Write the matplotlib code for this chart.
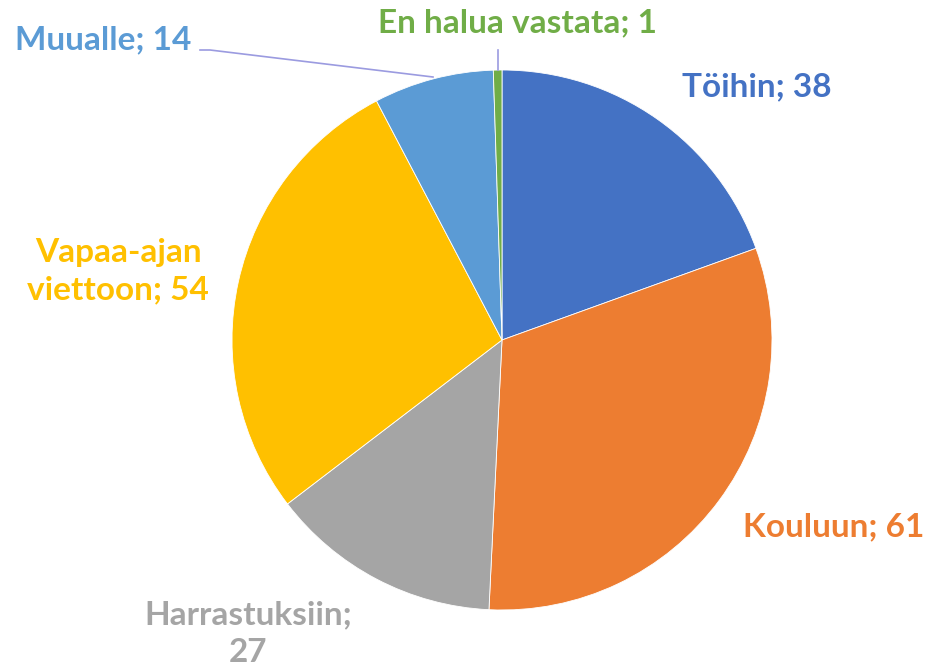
import matplotlib.pyplot as plt

labels = ["Töihin", "Kouluun", "Harrastuksiin", "Vapaa-ajan viettoon", "Muualle", "En halua vastata"]
values = [38, 61, 27, 54, 14, 1]
colors = ["#4472C4", "#ED7D31", "#A5A5A5", "#FFC000", "#5B9BD5", "#70AD47"]
label_texts = ["Töihin; 38", "Kouluun; 61", "Harrastuksiin;\n27", "Vapaa-ajan\nviettoon; 54",
               "Muualle; 14", "En halua vastata; 1"]

W, H = 930, 671
fig = plt.figure(figsize=(9.3, 6.71), dpi=100)
ax = fig.add_axes([0, 0, 1, 1])

cx, cy, r = 502, H - 340, 270
ax.pie(values, colors=colors, startangle=90, counterclock=False,
       center=(cx, cy), radius=r, frame=True,
       wedgeprops=dict(edgecolor="white", linewidth=0.6))
ax.set_xlim(0, W)
ax.set_ylim(0, H)
ax.axis("off")

# label positions in pixel coords (x, y from top)
pos = [(757, 87), (834, 527), (248, 634), (118, 271), (103, 40), (517, 23)]
font = dict(family=["Lato", "DejaVu Sans"], fontsize=24, fontweight="bold")
for txt, (x, y), c in zip(label_texts, pos, colors):
    ax.text(x, H - y, txt, color=c, ha="center", va="center",
            linespacing=1.35, **font)

# leader lines
ax.plot([200, 210, 433], [H - 50, H - 50, H - 77], color="#9b9be0", lw=1.2)
ax.plot([498, 498], [H - 50, H - 70], color="#9b9be0", lw=1.2)

fig.savefig("out.png", dpi=100)
